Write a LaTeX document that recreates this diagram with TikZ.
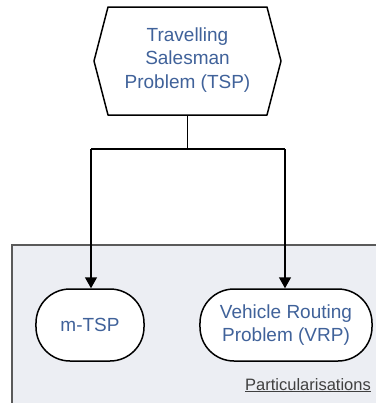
\documentclass[tikz,border=0pt]{standalone}
\usepackage{fontspec}
\setmainfont{Liberation Sans}
\usetikzlibrary{arrows.meta}
\definecolor{txtblue}{HTML}{40629A}
\definecolor{panelfill}{HTML}{ECEEF3}
\definecolor{panelline}{HTML}{5A5A5A}
\definecolor{labelgray}{HTML}{404040}
\begin{document}
\begin{tikzpicture}[x=1bp,y=-1bp,
  lbl/.style={text=txtblue,font=\fontsize{19bp}{23.5bp}\selectfont,align=center,inner sep=0pt},
  procbox/.style={draw=black,line width=1.5bp,fill=white,rounded corners=34bp,minimum height=72bp,inner sep=0pt},
  conn/.style={draw=black,line width=1.5bp},
  arr/.style={conn,-{Triangle[length=11bp,width=12bp]}}]
\useasboundingbox (0,0) rectangle (376,403);
\clip (0,0) rectangle (376,403);
% panel
\draw[fill=panelfill,draw=panelline,line width=2.5bp] (12,245) rectangle (390,420);
\node[text=labelgray,font=\fontsize{16.5bp}{19bp}\selectfont,anchor=base east,inner sep=0pt] (part) at (371,390) {\underline{Particularisations}};
% hexagon
\coordinate (h1) at (108,7);
\coordinate (h2) at (267,7);
\coordinate (h3) at (281,61);
\coordinate (h4) at (267,115);
\coordinate (h5) at (108,115);
\coordinate (h6) at (94,61);
\draw[fill=white,line width=1.5bp,line join=round] (h1) -- (h2) -- (h3) -- (h4) -- (h5) -- (h6) -- cycle;
\node[lbl] (tsp) at (187.5,60) {Travelling\\Salesman\\Problem (TSP)};
\coordinate (hb) at (187.5,115);
\coordinate (jn) at (187.5,149);
\coordinate (jl) at (91,149);
\coordinate (jr) at (285,149);
% boxes
\node[procbox,minimum width=108bp] (mtsp) at (90,325) {};
\node[lbl] at (mtsp.center) {m-TSP};
\node[procbox,minimum width=172bp] (vrp) at (286,325) {};
\node[lbl] at (vrp.center) {Vehicle Routing\\Problem (VRP)};
% connectors
\draw[conn] (hb) -- (jn);
\draw[conn] (jl) -- (jr);
\draw[arr] (jl) -- (jl |- mtsp.north);
\draw[arr] (jr) -- (jr |- vrp.north);
\end{tikzpicture}
\end{document}
